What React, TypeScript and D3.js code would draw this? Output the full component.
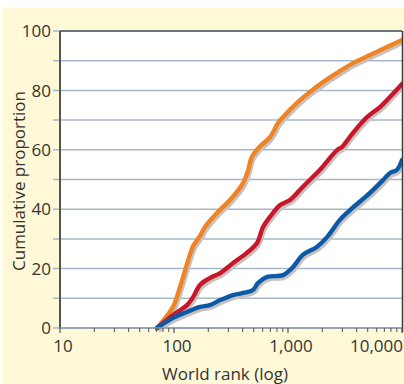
import React from "react";
import * as d3 from "d3";

const orangeRank = [71, 98, 113, 130, 147, 169, 187, 238, 310, 403, 446, 480, 560, 695, 817, 903, 1199, 1559, 2027, 2691, 3717, 5239, 7383, 10000];
const orangeVal = [0, 7.1, 13.8, 21.5, 27.5, 31.0, 34.0, 38.7, 43.1, 48.8, 53.0, 57.5, 60.9, 64.3, 69.0, 71.0, 75.8, 79.5, 82.8, 85.9, 89.2, 91.9, 94.6, 97.0];

const redRank = [71, 98, 130, 147, 169, 206, 254, 330, 435, 535, 604, 695, 853, 1040, 1346, 1899, 2691, 2970, 3717, 4933, 6413, 7837, 10000];
const redVal = [0, 4.4, 7.7, 10.4, 14.5, 16.8, 18.5, 21.9, 25.3, 28.6, 34.0, 37.4, 41.4, 43.1, 47.5, 53.2, 59.9, 60.9, 65.7, 71.0, 74.4, 77.8, 82.2];

const blueRank = [71, 98, 130, 169, 206, 254, 330, 403, 493, 547, 656, 903, 1107, 1346, 1790, 2200, 2850, 3500, 5239, 6815, 7837, 9000, 10000];
const blueVal = [0, 3.4, 5.4, 7.1, 7.7, 9.4, 11.1, 11.8, 12.8, 15.2, 17.2, 17.8, 20.5, 24.6, 27.3, 30.6, 36.4, 39.7, 45.5, 49.8, 52.2, 53.2, 56.6];

const seriesColors = ["#ee8424", "#c8172b", "#0a5aa8"];
const xTickValues = [10, 100, 1000, 10000];
const xTickLabels = ["10", "100", "1,000", "10,000"];
const yTickValues = [0, 20, 40, 60, 80, 100];
const yGridValues = [0, 10, 20, 30, 40, 50, 60, 70, 80, 90, 100];

const FONT = "'Open Sans', sans-serif";

export default function App() {
  const W = 404, H = 384;
  const left = 60, right = 402, top = 31, bottom = 328;
  const x = d3.scaleLog().domain([10, 10000]).range([left, right]);
  const y = d3.scaleLinear().domain([0, 100]).range([bottom, top]);

  const series = [
    { rank: orangeRank, val: orangeVal, color: seriesColors[0] },
    { rank: redRank, val: redVal, color: seriesColors[1] },
    { rank: blueRank, val: blueVal, color: seriesColors[2] },
  ];
  const line = d3
    .line<[number, number]>()
    .x((d) => x(d[0]))
    .y((d) => y(d[1]))
    .curve(d3.curveCatmullRom.alpha(0.5));
  const paths = series.map((s) => ({
    d: line(s.rank.map((r, i) => [r, s.val[i]] as [number, number])) || "",
    color: s.color,
  }));

  const minor: number[] = [];
  for (let dec = 10; dec < 10000; dec *= 10) {
    for (let k = 2; k <= 9; k++) minor.push(dec * k);
  }

  return (
    <svg width={W} height={H} style={{ position: "absolute", left: 0, top: 0 }}>
      <defs>
        <clipPath id="plotclip">
          <rect x={left} y={top - 5} width={right - left} height={bottom - top + 10} />
        </clipPath>
      </defs>
      <rect x={0} y={0} width={W} height={H} fill="#ffffff" />
      <rect x={2} y={8} width={W - 2} height={H - 8} fill="#fff9d8" />
      <rect x={left} y={top} width={right - left} height={bottom - top} fill="#ffffff" />

      {yGridValues.map((v) => (
        <line
          key={"g" + v}
          x1={left - 7}
          x2={right}
          y1={y(v)}
          y2={y(v)}
          stroke="#a7b7c7"
          strokeWidth={1.5}
        />
      ))}

      <g clipPath="url(#plotclip)">
        {paths.map((p, i) => (
          <path
            key={"s" + i}
            d={p.d}
            fill="none"
            stroke="#c9c0c0"
            strokeWidth={4.4}
            strokeLinejoin="round"
            transform="translate(1.5,2.5)"
          />
        ))}
        {paths.map((p, i) => (
          <path
            key={"l" + i}
            d={p.d}
            fill="none"
            stroke={p.color}
            strokeWidth={4.4}
            strokeLinejoin="round"
            strokeLinecap="round"
          />
        ))}
      </g>

      {/* frame */}
      <line x1={left} x2={right} y1={top} y2={top} stroke="#6b7576" strokeWidth={2} />
      <line x1={left} x2={left} y1={top} y2={bottom} stroke="#555555" strokeWidth={2} />
      <line x1={right + 0.5} x2={right + 0.5} y1={top} y2={bottom + 4} stroke="#3a3a3a" strokeWidth={1.5} />
      <line x1={left} x2={right} y1={bottom} y2={bottom} stroke="#8c9ba8" strokeWidth={1.5} />

      {xTickValues.map((v) => (
        <line key={"xt" + v} x1={x(v)} x2={x(v)} y1={bottom} y2={bottom + 5} stroke="#555" strokeWidth={1.2} />
      ))}
      {minor.map((v) => (
        <line key={"xm" + v} x1={x(v)} x2={x(v)} y1={bottom} y2={bottom + 4} stroke="#555" strokeWidth={1} />
      ))}

      {xTickValues.map((v, i) => {
        const last = i === xTickValues.length - 1;
        return (
          <text
            key={"xl" + v}
            x={last ? right + 1 : x(v) + 3}
            y={352}
            textAnchor={last ? "end" : "middle"}
            fontFamily={FONT}
            fontSize={17}
            fill="#333333"
          >
            {xTickLabels[i]}
          </text>
        );
      })}

      {yTickValues.map((v) => (
        <text
          key={"yl" + v}
          x={51}
          y={y(v)}
          dy="0.36em"
          textAnchor="end"
          fontFamily={FONT}
          fontSize={17}
          fill="#333333"
        >
          {v}
        </text>
      ))}

      <text
        x={225}
        y={380}
        textAnchor="middle"
        fontFamily={FONT}
        fontSize={17}
        fill="#333333"
      >
        World rank (log)
      </text>
      <text
        transform={`translate(25,${181}) rotate(-90)`}
        textAnchor="middle"
        fontFamily={FONT}
        fontSize={17}
        fill="#333333"
      >
        Cumulative proportion
      </text>
    </svg>
  );
}
